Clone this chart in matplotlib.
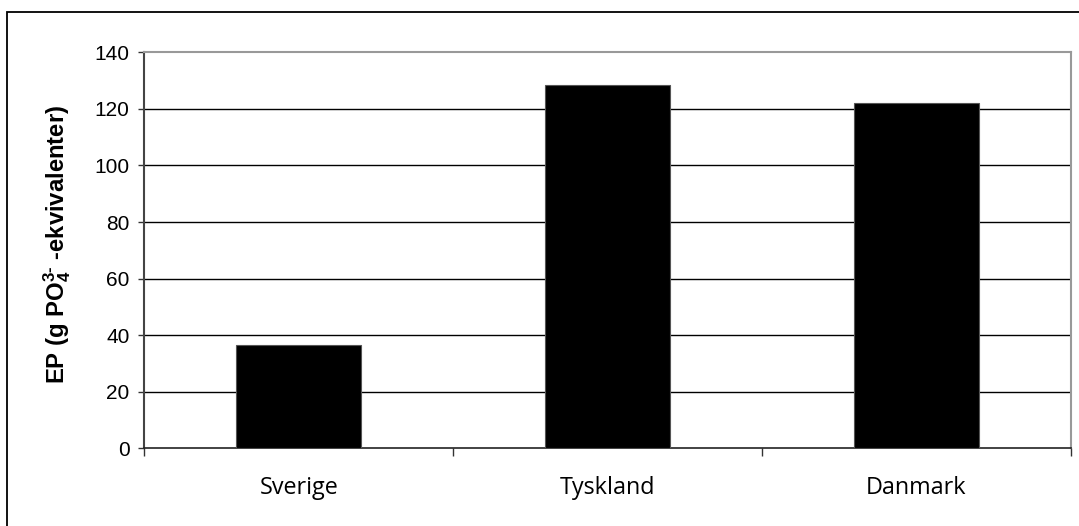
import matplotlib
matplotlib.use("Agg")
import matplotlib.pyplot as plt
from matplotlib.patches import Rectangle

countries = ["Sverige", "Tyskland", "Danmark"]
ep_values = [36.4, 128.3, 121.9]
y_ticks = [0, 20, 40, 60, 80, 100, 120, 140]

plt.rcParams["font.family"] = ["Liberation Sans"]
plt.rcParams["mathtext.fontset"] = "custom"
plt.rcParams["mathtext.default"] = "bf"
plt.rcParams["mathtext.rm"] = "Liberation Sans:bold"
plt.rcParams["mathtext.it"] = "Liberation Sans:bold"
plt.rcParams["mathtext.bf"] = "Liberation Sans:bold"
plt.rcParams["mathtext.sf"] = "Liberation Sans:bold"

W, H, DPI = 1079, 526, 100
fig = plt.figure(figsize=(W / DPI, H / DPI), dpi=DPI)
fig.patch.set_facecolor("white")

# outer chart frame
fig.patches.append(Rectangle((7 / W, -0.2), 1.2, 1 - 12 / H + 0.2,
                             transform=fig.transFigure, fill=False,
                             edgecolor="black", linewidth=1.3))

left, right = 144.3 / W, 1071 / W
bottom, top = 1 - 448.3 / H, 1 - 52.3 / H
ax = fig.add_axes([left, bottom, right - left, top - bottom])

x = range(len(countries))
ax.bar(x, ep_values, width=0.405, color="black", edgecolor="#555555",
       linewidth=0.8, zorder=3)

ax.set_xlim(-0.5, len(countries) - 0.5)
ax.set_ylim(0, 140)
ax.set_yticks(y_ticks)
ax.set_yticklabels([str(t) for t in y_ticks], family="Liberation Sans",
                   fontsize=15)

# category boundaries carry the tick marks; labels sit centred below bars
ax.set_xticks([-0.5, 0.5, 1.5, 2.5])
ax.set_xticklabels([])
ax.set_xticks(list(x), minor=True)
ax.set_xticklabels(countries, minor=True, family="Open Sans", fontsize=16.8)
ax.tick_params(axis="x", which="major", direction="out", length=6,
               width=1, color="#333333")
ax.tick_params(axis="x", which="minor", length=0, pad=20)
ax.tick_params(axis="y", direction="out", length=4.5, width=1,
               color="#333333", pad=6)

for t in y_ticks[1:-1]:
    ax.axhline(t, color="black", linewidth=1.0, zorder=1)

ax.spines["top"].set_color("#999999")
ax.spines["right"].set_color("#999999")
ax.spines["top"].set_linewidth(1.5)
ax.spines["right"].set_linewidth(1.5)
ax.spines["left"].set_color("#444444")
ax.spines["left"].set_linewidth(1.5)
ax.spines["bottom"].set_color("#222222")
ax.spines["bottom"].set_linewidth(1.2)

ax.set_ylabel(r"EP (g PO$_4^{3\text{-}}$ -ekvivalenter)", family="Liberation Sans",
              fontweight="bold", fontsize=17.2)
ax.yaxis.set_label_coords(-0.077, 0.515)

fig.savefig("out.png", dpi=DPI, facecolor="white")
